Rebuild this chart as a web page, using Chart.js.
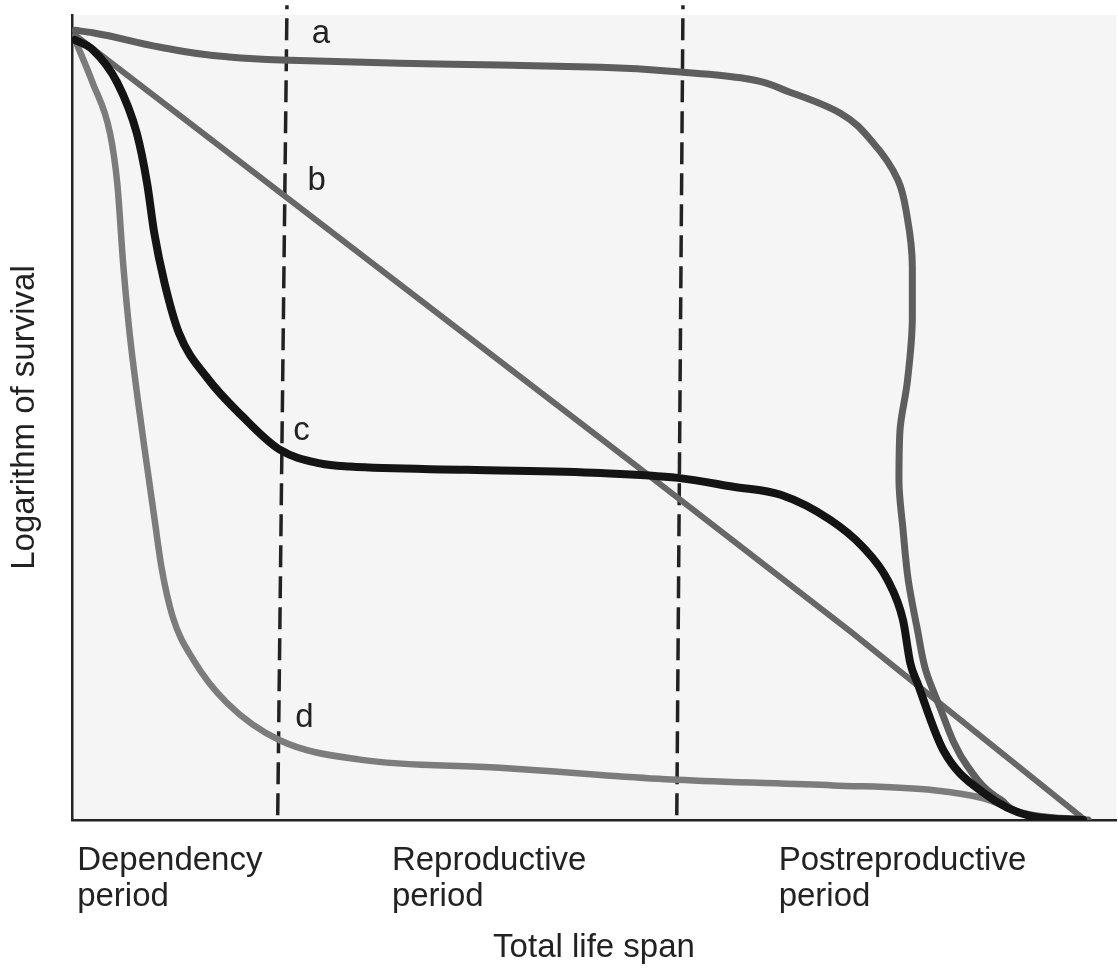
<!DOCTYPE html>
<html>
<head>
<meta charset="utf-8">
<title>Survivorship curves</title>
<script src="https://cdn.jsdelivr.net/npm/chart.js@4.4.1/dist/chart.umd.min.js"></script>
<style>
    html, body { margin: 0; padding: 0; background: #ffffff; }
    #wrap { width: 1118px; height: 972px; position: relative; }
</style>
</head>
<body>
<div id="wrap"><canvas id="survival-chart"></canvas></div>
<script>
// x = share of total life span (0-100), y = logarithm of survival (relative, 0-100)
const spanA = [0.3, 2.0, 8.6, 15.1, 20.3, 31.9, 41.6, 51.4, 59.4, 65.0, 69.8, 74.7, 77.9, 80.3, 81.2, 81.7, 81.7, 81.2, 80.5, 80.4, 80.8, 81.3, 82.2, 83.0, 84.1, 87.1, 90.3, 95.1, 98.8];
const survA = [98.1, 97.8, 96.0, 94.8, 94.4, 94.0, 93.8, 93.5, 92.9, 92.2, 90.4, 87.8, 84.1, 79.5, 74.9, 68.7, 62.5, 54.3, 48.4, 42.2, 36.0, 29.8, 23.6, 18.6, 14.9, 6.6, 2.5, 0.3, 0];

const spanB = [0.3, 56.2, 75.7, 98.5];
const survB = [97.5, 42.7, 23.4, 0];

const spanC = [0.3, 2.0, 4.4, 6.3, 7.3, 8.0, 9.0, 10.4, 13.1, 16.6, 20.2, 24.1, 27.0, 38.4, 51.4, 58.9, 64.3, 68.9, 73.7, 76.9, 79.3, 80.8, 81.5, 82.2, 84.7, 88.6, 93.5, 98.3];
const survC = [96.9, 95.7, 91.6, 85.3, 79.1, 72.9, 66.7, 60.5, 55.0, 50.1, 46.0, 44.3, 43.9, 43.5, 43.1, 42.5, 41.4, 40.4, 37.3, 33.9, 29.8, 24.8, 19.5, 17.0, 8.7, 3.4, 0.4, 0];

const spanD = [0.3, 2.0, 3.7, 4.4, 5.0, 5.6, 6.4, 7.3, 8.0, 8.7, 9.8, 11.8, 15.1, 20.2, 28.0, 41.6, 51.4, 58.8, 74.0, 83.8, 88.6, 93.5, 98.3];
const survD = [96.9, 91.6, 85.3, 79.1, 68.7, 60.5, 52.2, 43.9, 37.6, 31.4, 25.2, 19.9, 14.5, 9.9, 7.5, 6.5, 5.6, 5.0, 4.3, 3.7, 2.7, 0.4, 0];

// period boundaries (dashed lines), bottom and top ends
const boundary1X = [20.0, 20.9];
const boundary2X = [58.8, 59.4];
const boundaryY = [0.6, 101.2];

// x-axis period labels and where each one starts
const periodLabels = [['Dependency', 'period'], ['Reproductive', 'period'], ['Postreproductive', 'period']];
const periodStarts = [0.5, 31.1, 68.7];

// curve letters
const curveNames = ['a', 'b', 'c', 'd'];
const curveNameX = [23.3, 22.9, 21.5, 21.7];
const curveNameY = [96.5, 78.3, 47.2, 11.6];

function toPoints(xs, ys) {
    return xs.map(function(x, i) { return { x: x, y: ys[i] }; });
}

const FONT = "'Liberation Sans', Arial, Helvetica, sans-serif";
const INK = '#222222';

// light paper tone inside the plot
const paperPlugin = {
    id: 'paper',
    beforeDraw: function(chart) {
        const a = chart.chartArea;
        const ctx = chart.ctx;
        ctx.save();
        ctx.fillStyle = '#f5f5f5';
        ctx.fillRect(a.left, a.top, a.right - a.left, a.bottom - a.top);
        ctx.restore();
    }
};

// letters next to the curves
const curveNamePlugin = {
    id: 'curveNames',
    afterDatasetsDraw: function(chart) {
        const ctx = chart.ctx;
        const xs = chart.scales.x;
        const ys = chart.scales.y;
        ctx.save();
        ctx.font = '33px ' + FONT;
        ctx.fillStyle = INK;
        ctx.textAlign = 'left';
        ctx.textBaseline = 'alphabetic';
        curveNames.forEach(function(name, i) {
            ctx.fillText(name, xs.getPixelForValue(curveNameX[i]), ys.getPixelForValue(curveNameY[i]));
        });
        ctx.restore();
    }
};

function curve(data, color, width, extra) {
    return Object.assign({
        data: data,
        borderColor: color,
        borderWidth: width,
        borderCapStyle: 'round',
        borderJoinStyle: 'round',
        pointRadius: 0,
        fill: false
    }, extra);
}

function boundary(xs) {
    return {
        data: toPoints(xs, boundaryY),
        borderColor: INK,
        borderWidth: 3.5,
        borderDash: [22, 9],
        pointRadius: 0,
        clip: false,
        fill: false
    };
}

const ctx = document.getElementById('survival-chart').getContext('2d');
new Chart(ctx, {
    type: 'line',
    data: {
        datasets: [
            curve(toPoints(spanC, survC), '#141414', 8, { cubicInterpolationMode: 'monotone' }),
            // curve a doubles back on x, but is monotone in y
            curve(toPoints(spanA, survA), '#5e5e5e', 7, { cubicInterpolationMode: 'monotone', indexAxis: 'y' }),
            curve(toPoints(spanB, survB), '#676767', 6, { tension: 0 }),
            curve(toPoints(spanD, survD), '#7c7c7c', 6.5, { cubicInterpolationMode: 'monotone' }),
            boundary(boundary1X),
            boundary(boundary2X)
        ]
    },
    options: {
        responsive: true,
        maintainAspectRatio: false,
        animation: false,
        layout: { padding: { left: 2, right: 2, top: 15, bottom: 4 } },
        plugins: {
            legend: { display: false },
            tooltip: { enabled: false }
        },
        scales: {
            x: {
                type: 'linear',
                min: 0,
                max: 101.5,
                grid: { display: false, drawTicks: false },
                border: { display: true, color: INK, width: 2.5 },
                afterBuildTicks: function(scale) {
                    scale.ticks = periodStarts.map(function(v) { return { value: v }; });
                },
                afterFit: function(scale) { scale.height = 148; },
                ticks: {
                    autoSkip: false,
                    maxRotation: 0,
                    align: 'start',
                    padding: 23,
                    color: INK,
                    font: { family: FONT, size: 33, lineHeight: 1.09 },
                    callback: function(value, index) { return periodLabels[index]; }
                },
                title: {
                    display: true,
                    text: 'Total life span',
                    color: INK,
                    font: { family: FONT, size: 33, lineHeight: 1.2 },
                    padding: { top: 0, bottom: 0 }
                }
            },
            y: {
                type: 'linear',
                min: 0,
                max: 100,
                grid: { display: false, drawTicks: false },
                border: { display: true, color: INK, width: 2.5 },
                ticks: { display: false },
                afterFit: function(scale) { scale.width = 70; },
                title: {
                    display: true,
                    text: 'Logarithm of survival',
                    color: INK,
                    font: { family: FONT, size: 33, lineHeight: 1.2 },
                    padding: { top: 3, bottom: 0 }
                }
            }
        }
    },
    plugins: [paperPlugin, curveNamePlugin]
});
</script>
</body>
</html>
